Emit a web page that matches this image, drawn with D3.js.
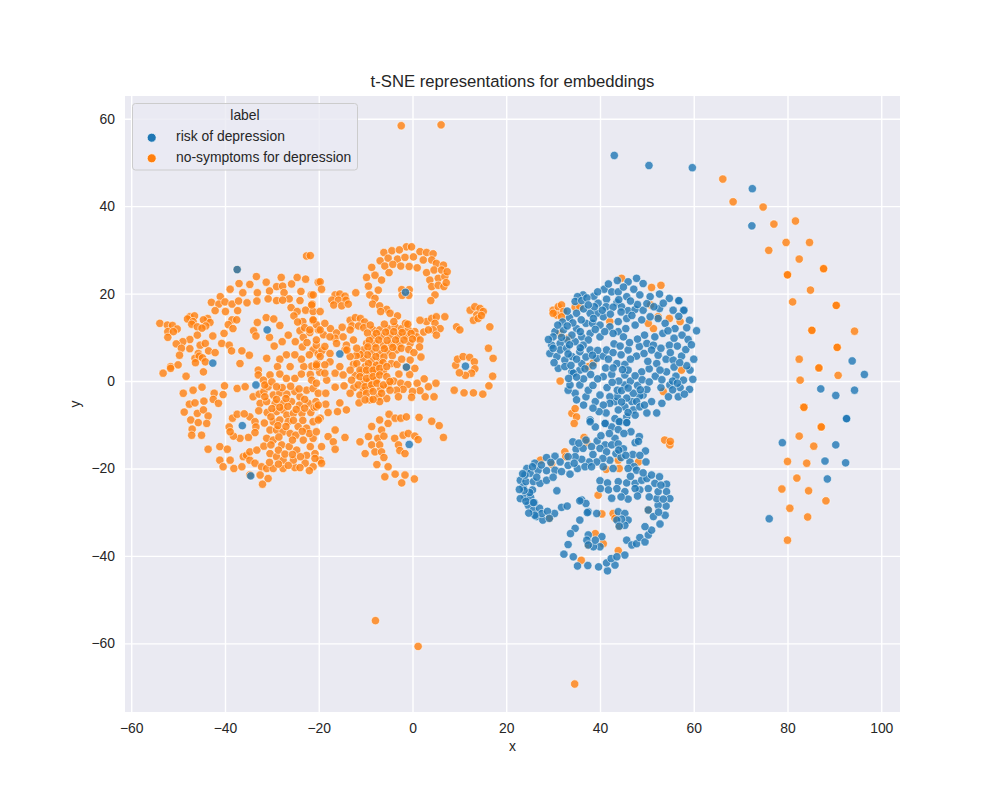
<!DOCTYPE html>
<html>
<head>
<meta charset="utf-8">
<script src="https://cdn.jsdelivr.net/npm/d3@7"></script>
<style>
  body { margin: 0; background: #ffffff; }
  svg text { font-family: "Liberation Sans", Arial, sans-serif; fill: #262626; }
</style>
</head>
<body>
<svg id="chart" width="1000" height="800"></svg>
<script>
// t-SNE coordinates, [x, y]
const xTicks = [-60, -40, -20, 0, 20, 40, 60, 80, 100];
const yTicks = [-60, -40, -20, 0, 20, 40, 60];
const labelNames = ["risk of depression", "no-symptoms for depression"];
const labelColors = ["#1f77b4", "#ff7f0e"];

// big orange blob on the left
const noSymptomsLeft = [
  [-22.6,28.6],[-21.8,28.7],[-37.4,25.5],
  [-33.3,23.9],[-37.0,22.3],[-34.7,22.1],[-31.2,22.6],[-28.0,23.7],[-25.8,22.2],[-24.6,23.7],[-22.8,23.3],[-20.1,22.6],
  [-38.9,21.0],[-36.2,20.2],[-33.1,20.2],[-30.5,20.6],[-29.0,21.6],[-27.7,21.7],[-27.4,20.2],[-26.3,18.8],[-23.8,20.5],[-21.6,19.7],
  [-41.0,19.3],[-42.9,18.0],[-41.3,17.6],[-40.0,18.1],[-38.5,17.6],[-37.1,18.3],[-35.3,17.9],[-33.2,18.3],[-30.8,18.8],[-29.0,18.4],[-27.7,18.5],[-24.0,18.4],[-21.4,17.6],
  [-42.1,16.1],[-39.9,15.9],[-37.3,16.1],[-38.5,14.0],[-37.5,14.0],[-39.3,12.9],[-38.3,12.0],
  [-33.1,13.4],[-31.2,14.5],[-29.6,14.2],[-28.3,12.7],[-33.9,11.5],[-33.4,10.3],
  [-25.9,16.8],[-24.6,15.9],[-22.8,16.2],[-21.2,15.9],[-25.3,14.9],[-23.4,13.6],[-21.2,13.8],[-24.0,11.5],[-21.9,11.1],[-23.3,10.0],[-20.1,11.7],
  [-53.9,13.2],[-52.3,12.8],[-51.2,12.7],[-50.2,11.9],[-52.2,11.3],[-51.0,11.3],[-52.2,10.0],[-47.5,14.7],[-46.5,14.9],[-48.0,14.2],
  [-46.8,13.6],[-47.1,13.0],[-45.9,12.4],[-43.7,14.3],[-44.6,14.0],[-43.2,13.4],[-44.1,12.6],[-44.9,12.1],[-45.9,10.5],[-42.6,10.3],
  [-47.5,9.5],[-49.0,9.0],[-50.4,8.5],[-49.3,7.5],[-47.5,7.4],[-45.3,8.2],[-44.2,8.6],[-45.7,6.3],[-43.5,6.9],[-42.1,6.5],
  [-46.4,5.2],[-45.5,5.7],[-44.8,5.3],[-44.2,4.4],[-46.3,4.2],[-49.7,5.9],[-51.6,3.3],[-50.0,3.7],
  [-40.7,8.6],[-40.2,10.9],[-39.1,8.2],[-38.6,6.9],[-36.4,6.9],[-36.8,4.0],[-34.8,5.9],[-31.1,5.2],[-21.2,7.1],[-20.1,6.2],[-21.5,3.4],[-20.4,4.0],[-32.9,2.5],
  [-26.5,10.5],[-25.0,9.0],[-27.8,9.0],[-29.5,8.0],[-30.5,10.0],[-23.5,7.8],
  // ring near (-26, 3) with its centre point
  [-23.2,3.3],[-23.7,5.0],[-25.1,6.0],[-26.9,6.0],[-28.3,5.0],[-28.8,3.3],[-28.3,1.6],[-26.9,0.6],[-25.1,0.6],[-23.7,1.6],[-26.1,3.3],
  [-53.2,1.8],[-51.6,2.9],[-48.3,1.1],[-44.6,2.1],
  [-40.1,-1.1],[-42.3,-2.8],[-40.4,-3.1],[-44.9,-1.4],[-46.8,-2.1],[-48.9,-2.8],[-47.6,-5.3],[-46.4,-5.0],[-44.5,-4.6],[-42.5,-4.2],[-41.4,-5.1],
  [-48.7,-7.1],[-45.9,-7.4],[-44.6,-6.6],[-43.6,-8.0],[-47.3,-8.9],[-45.7,-9.5],[-43.9,-9.7],[-47.0,-11.0],[-47.1,-12.4],[-45.0,-12.4],
  // spiral round the blue point at (-36.3, -10.2)
  [-38.4,-8.5],[-37.4,-7.6],[-34.7,-8.2],[-33.6,-9.3],[-33.4,-10.5],[-33.6,-11.8],[-35.0,-12.9],[-36.8,-13.1],[-38.2,-12.6],[-39.1,-10.5],[-38.9,-11.6],[-35.9,-7.5],
  [-37.4,-1.7],[-35.7,-1.3],
  [-43.6,-15.6],[-41.1,-15.0],[-39.5,-15.6],[-41.1,-18.1],[-38.9,-18.1],[-40.4,-19.6],[-38.1,-20.0],[-36.4,-19.6],[-36.1,-17.3],[-35.4,-17.0],
  [-34.7,-18.1],[-33.6,-18.8],[-32.2,-19.6],[-31.1,-20.0],[-29.7,-20.0],[-27.6,-20.0],[-25.1,-19.8],[-21.2,-19.6],[-32.5,-21.5],[-30.8,-22.3],[-32.0,-23.6],[-34.7,-21.5],
  [-34.0,-3.6],[-32.7,-3.0],[-31.7,-2.4],[-30.8,-1.3],[-29.7,-3.2],[-28.3,-2.7],[-26.8,-3.0],[-25.1,-2.4],[-24.0,-3.6],[-22.6,-2.1],[-21.2,-1.7],[-20.1,-2.8],
  [-32.5,-5.1],[-31.1,-4.7],[-29.3,-5.1],[-27.6,-5.1],[-25.8,-4.7],[-24.1,-5.5],[-22.2,-5.1],[-20.6,-4.7],
  [-29.0,-7.0],[-27.6,-6.6],[-26.8,-7.8],[-25.4,-7.4],[-23.6,-7.4],[-21.7,-7.2],[-31.0,-7.2],[-32.8,-6.8],
  [-29.7,-9.3],[-28.3,-8.9],[-26.5,-9.3],[-24.4,-10.4],[-22.6,-10.8],[-21.2,-9.3],[-19.7,-8.5],[-31.6,-9.6],
  [-30.4,-11.2],[-29.0,-11.2],[-27.6,-11.6],[-26.1,-12.0],[-24.9,-12.4],[-23.3,-13.5],[-21.2,-13.1],
  [-31.1,-13.1],[-29.7,-13.5],[-27.9,-14.6],[-26.3,-15.0],[-24.7,-15.8],[-22.6,-17.0],[-20.8,-16.6],[-19.7,-18.1],
  [-34.7,-16.2],[-33.2,-15.8],[-31.7,-14.9],[-30.4,-16.6],[-29.0,-17.3],[-27.6,-18.1],[-25.4,-18.1],[-22.9,-18.8],
  [-30.0,-6.3],[-28.3,-6.0],[-26.6,-5.8],[-24.8,-6.5],[-23.0,-6.2],[-21.0,-6.0],[-30.2,-8.2],[-28.7,-10.2],[-27.0,-10.4],[-25.4,-9.0],
  [-23.4,-9.0],[-22.0,-12.0],[-23.5,-11.5],[-25.6,-13.5],[-28.5,-12.8],[-30.2,-14.6],[-28.6,-15.8],[-27.2,-16.7],[-25.6,-16.8],[-23.9,-17.3],
  [-21.8,-15.0],[-26.5,-19.3],[-28.6,-19.0],[-24.0,-19.8],[-22.0,-20.5],[-30.5,-18.6],[-27.8,-1.5],[-26.0,-1.2],[-24.2,-1.8],[-23.0,-4.2],
  [-27.0,-4.0],[-29.0,-4.2],[-31.5,-3.6],
  [-32.9,1.4],[-31.8,0.2],[-31.5,-0.9],[-30.4,1.4],[-30.0,-0.2],[-29.0,-1.3],
  [-24.5,13.5],[-23.0,12.2],[-20.5,12.9],[-19.0,10.6],[-22.5,8.8],[-20.5,8.2],[-22.0,6.0],[-19.3,7.0],[-21.8,1.5],[-19.8,2.0],
  [-17.5,12.0],[-16.2,11.0],[-15.0,12.3],[-16.5,9.8],
  // top arc round (-1, 20)
  [-1.3,30.7],[-0.2,30.7],[-6.1,29.4],[-4.4,29.8],[-2.8,30.0],[1.6,29.6],[3.0,29.4],[4.4,29.1],[-6.9,27.5],[-5.2,28.1],[-3.2,27.9],[-1.6,28.3],
  [0.2,28.4],[2.3,27.7],[4.1,27.7],[5.1,26.9],[6.6,26.5],[-8.7,26.0],[-5.9,26.3],[-4.2,26.7],[-2.5,26.3],[-0.7,26.2],[1.0,25.9],[3.0,24.8],
  [4.6,25.4],[6.2,25.4],[-9.8,23.7],[-8.0,24.2],[-6.6,23.1],[-5.0,24.8],[3.7,23.1],[5.5,23.5],[6.9,23.9],[-9.4,21.7],[-7.3,20.8],[4.1,21.6],
  [5.5,21.9],[6.7,21.6],[-9.1,19.7],[-8.0,18.9],[4.8,19.7],[3.9,18.4],[-8.5,17.6],[-7.0,17.2],[-5.5,16.4],[-6.8,15.9],[-4.8,15.5],[-3.2,14.9],
  [7.4,25.0],[7.2,22.5],
  [-2.3,20.9],[-0.7,20.9],[-0.8,19.6],[-2.2,19.6],
  [-19.7,22.7],[-19.4,21.0],[-12.1,20.2],
  [-16.5,19.7],[-15.5,19.9],[-14.4,19.4],[-17.2,18.5],[-15.8,18.5],[-14.2,18.5],[-16.8,17.4],[-15.1,17.2],[-13.7,17.6],
  [-21.2,19.7],[-21.5,17.4],[-19.7,15.9],[-21.2,14.0],[-18.7,13.2],[-21.9,11.7],[-19.7,11.7],[-20.5,9.4],[-17.6,10.1],[-18.7,7.9],
  [-13.3,13.9],[-12.2,14.5],[-11.1,14.3],[-10.2,13.5],[-12.9,12.6],[-11.5,12.6],[-10.4,12.2],
  [-8.4,11.7],[-7.0,11.7],[-5.2,12.0],[-3.7,12.4],[-2.3,12.0],[-0.9,11.7],[0.5,11.3],[0.9,10.1],
  [-8.4,10.1],[-6.6,10.3],[-4.8,10.5],[-3.0,10.3],[-1.3,10.3],
  [-9.8,8.6],[-8.0,8.6],[-6.2,8.2],[-4.5,8.5],[-2.7,8.6],[-0.5,8.6],[1.6,9.4],
  [-10.5,7.1],[-8.7,6.7],[-7.0,6.3],[-5.2,6.7],[-3.4,7.1],
  [-10.5,5.2],[-8.7,4.8],[-7.0,4.4],[-10.1,3.3],[-8.4,3.1],
  [-9.0,12.8],[-6.0,13.0],[-4.0,13.6],[-1.5,13.2],[-9.6,11.0],[-7.7,10.9],[-5.7,11.2],[-4.0,11.3],[-2.2,11.1],[-0.3,10.9],
  [-9.2,9.3],[-7.2,9.4],[-5.4,9.3],[-3.6,9.4],[-1.8,9.4],[0.0,9.6],[-9.5,7.8],[-7.8,7.6],[-6.0,7.4],[-4.2,7.7],
  [-2.4,7.5],[-0.8,7.2],[-9.6,6.0],[-7.8,5.6],[-6.1,5.5],[-4.3,5.8],[-11.2,6.1],[-9.4,4.0],[-7.7,3.6],[-6.3,4.2],
  [-10.8,2.0],[-9.1,1.8],[-7.6,2.1],[-6.2,2.1],[-10.5,-0.2],[-9.2,0.0],[-7.7,0.2],[-6.8,-1.8],[-5.2,-1.0],[-9.0,-1.7],
  [-10.5,-2.2],[-12.5,-1.5],[-12.2,1.3],[-12.6,3.8],[-12.0,5.8],[-4.5,4.0],[-4.0,0.0],[-2.5,-0.5],[-1.0,-0.8],[1.0,-0.5],
  [2.5,0.5],[1.8,5.5],[0.3,6.5],[1.5,7.8],[-1.0,13.0],[2.4,11.2],
  [-13.3,11.7],[-14.8,10.1],[-12.6,9.4],[-16.2,8.6],[-14.1,8.2],[-11.9,7.5],[-17.6,6.3],[-13.3,5.6],[-11.9,4.0],[-17.6,4.4],[-19.7,5.6],[-20.5,3.3],
  [-14.4,7.1],[-14.0,7.1],
  [3.0,13.6],[4.1,14.3],[5.1,14.7],[4.8,13.2],[5.9,12.0],[4.4,11.7],[5.1,10.5],[3.4,11.7],
  [1.6,13.9],[6.9,14.7],[9.4,12.4],[10.1,11.7],
  [12.3,16.2],[13.3,17.0],[14.4,16.6],[15.1,15.9],[13.7,15.1],[13.0,13.9],[14.0,14.3],[14.7,15.0],[16.5,12.4],[16.2,7.5],[17.2,5.2],
  // ring round the blue point at (11.3, 3.4)
  [9.2,3.6],[9.6,5.0],[10.8,5.6],[12.2,5.4],[13.2,4.4],[13.3,2.8],[12.6,1.8],[11.3,1.3],[10.0,1.9],
  [17.1,1.1],[16.3,-1.1],[15.0,-3.0],[13.0,-2.7],[11.0,-2.7],[8.9,-2.1],
  [-3.3,3.8],[-2.9,1.6],[-0.6,1.5],[0.5,2.9],[-0.5,4.8],[-2.3,5.0],[-1.3,3.1],
  [5.0,-0.5],[3.4,-1.3],[2.7,-3.6],[4.6,-3.6],[1.6,-2.2],[0.0,-2.4],[-0.2,-3.7],[-2.0,-1.9],[-3.4,-2.1],[-3.0,-3.6],[-4.8,-2.1],[-5.5,-4.0],
  [-7.3,-3.6],[-7.0,-4.7],[-9.1,-4.3],[-11.2,-3.2],[-11.4,-5.0],[-13.3,-2.8],[-14.6,-1.1],[-16.5,-1.4],[-18.5,-2.8],[-18.5,-5.3],[-15.5,-5.0],
  [-14.1,-6.6],[-16.0,-7.0],[-18.0,-7.2],[-20.1,-8.9],[-20.5,-11.6],[-20.5,-5.9],[-16.5,-11.2],[-14.4,-12.9],[-18.0,-12.7],[-16.9,-13.9],
  [-19.4,-15.0],[-16.5,-15.6],[-20.8,-17.7],[-19.4,-18.8],
  [-3.8,-13.1],[-3.0,-14.6],[-2.7,-15.9],[-1.6,-16.6],[-2.0,-12.4],[-0.9,-12.0],[0.5,-12.6],[1.2,-13.4],
  [-8.7,-10.4],[-7.0,-8.9],[-5.0,-7.6],[-3.7,-8.5],[-2.5,-8.5],[-1.3,-8.2],[1.4,-8.3],[4.1,-9.2],[5.7,-10.2],[6.6,-12.9],
  [-5.2,-9.7],[-6.6,-11.2],[-9.4,-12.7],[-11.2,-13.9],[-7.4,-13.1],[-8.7,-14.6],[-7.0,-14.6],[-6.1,-12.6],[-10.1,-16.6],[-8.0,-16.2],
  [-6.6,-16.2],[-6.1,-17.5],[-7.6,-19.1],[-5.2,-19.6],[-5.9,-21.9],[-3.7,-21.3],[-1.6,-21.5],[-2.3,-23.3],[0.4,-22.4],
  [-11.2,2.5],[-9.8,2.5],[-8.4,2.5],[-7.0,2.9],[-5.5,3.3],[-11.2,1.0],[-9.8,0.6],[-8.4,1.0],[-7.0,1.4],[-5.5,1.0],
  [-11.6,-0.9],[-10.1,-1.3],[-8.7,-0.9],[-7.6,-0.5],[-6.2,-0.9],[-4.8,-0.1],[-9.8,-2.8],[-8.4,-2.4],[-6.6,-2.8],[-10.1,-4.3],[-8.4,-4.2],
  [-20.5,3.7],[-18.7,3.7],[-21.5,0.2],[-20.5,-0.5],[-18.3,0.2],[-18.7,1.8],[-16.5,1.8],[-14.8,1.4],[-13.3,2.5],[-15.5,3.3],[-13.0,0.2],[-20.1,-5.5]
];

// orange points scattered inside the blue blob
const noSymptomsMid = [
  [44.6,23.5],[51.0,21.4],[53.0,21.9],[50.8,17.4],[54.8,14.3],[57.1,13.6],[51.4,12.0],[50.3,13.2],[52.4,14.7],[42.1,13.6],
  [37.5,3.3],[38.6,4.2],[57.4,2.5],[53.5,-2.4],
  [30.0,16.2],[31.1,17.0],[31.8,17.4],[32.2,15.9],[30.8,15.1],[30.0,15.5],[31.8,14.7],[34.7,16.9],[35.7,17.0],
  [31.5,10.9],[33.2,9.8],[31.5,0.0],[34.0,-7.4],[34.7,-6.3],[35.0,-8.2],[34.5,-9.7],
  [36.6,-12.9],[37.2,-14.1],[43.9,-18.1],[32.5,-16.2],[32.7,-17.3],[27.3,-18.1],[29.7,-19.0],[41.3,-20.2],[44.1,-20.0],[48.2,-18.5],
  [53.8,-13.5],[54.9,-14.6],[55.0,-13.8],
  [39.6,-26.1],[40.4,-30.4],[42.8,-30.3],[43.2,-31.4],[39.0,-34.9],[40.7,-37.2],[36.0,-41.0],[43.9,-38.8],
  [29.2,-31.4],[50.3,-29.5],[44.1,-33.2],[37.5,-37.5]
];

// orange points on the sparse arc to the right
const noSymptomsArc = [
  [66.2,46.2],[68.4,41.0],[74.8,39.8],[77.1,35.9],[81.7,36.6],[79.7,31.7],[84.7,31.7],[76.0,29.9],[82.5,27.9],
  [87.7,25.7],[87.7,25.7],[80.0,24.3],[80.0,24.3],[84.9,20.8],[81.1,18.1],[90.4,17.3],[90.4,17.3],
  [85.2,11.6],[85.2,11.6],[94.3,11.4],[90.6,7.7],[90.6,7.7],[82.5,5.0],[86.7,3.0],[86.7,3.0],[90.8,1.3],[82.7,0.2],
  [83.5,-6.0],[83.5,-6.0],[87.2,-10.5],[87.2,-10.5],[82.5,-12.6],[85.6,-14.9],[80.0,-18.4],[84.1,-18.8],[82.0,-22.2],
  [78.8,-24.7],[84.5,-25.1],[88.2,-27.4],[80.5,-29.1],[84.3,-31.1],[80.0,-36.4]
];

const noSymptomsOutliers = [
  [-2.4,58.4],[6.1,58.6],[-7.9,-54.8],[1.2,-60.7],[34.6,-69.3]
];

// blue points lying in the orange blob
const riskInLeft = [
  [-37.4,25.5],[-31.0,11.7],[-42.6,4.1],[-33.4,-0.9],[-36.3,-10.2],[-34.5,-21.7],
  [-1.5,20.3],[-15.5,6.2],[11.3,3.4],[-1.3,3.2],[-0.7,-14.5]
];

// the two blue blobs
const riskCluster = [
  [47.8,23.5],[46.0,22.7],[43.7,23.0],[49.2,22.3],[40.9,21.0],[42.5,20.4],[43.9,20.4],[45.7,19.3],[48.5,19.7],[50.7,19.3],
  [52.7,19.9],[54.8,18.9],[56.9,18.3],[38.7,19.4],[36.4,19.7],[35.2,19.3],[34.7,18.2],[36.1,18.4],[37.2,19.0],[39.6,17.8],
  [41.4,18.7],[43.6,17.9],[41.3,17.0],[42.8,16.9],[44.6,17.0],[46.0,16.1],[47.5,16.4],[49.2,16.2],[52.7,16.6],[55.6,16.2],
  [57.8,16.1],[59.1,13.9],[60.6,11.5],[53.9,13.2],[52.4,14.3],[50.7,14.7],[48.9,14.0],[47.5,12.8],[45.7,14.3],[43.9,13.6],
  [40.7,14.7],[39.3,15.5],[37.9,15.5],[37.0,13.2],[38.4,13.2],[40.0,12.8],[42.1,12.4],[43.9,11.3],[42.8,10.9],[45.0,10.1],
  [40.0,10.1],[37.9,10.9],[36.1,10.1],[35.0,12.0],[37.5,9.4],[36.4,8.2],[37.9,7.1],[35.7,6.7],[34.7,9.0],[34.0,10.5],
  [32.9,9.4],[32.2,11.7],[30.4,11.3],[30.0,10.1],[31.5,8.6],[29.7,8.2],[29.3,6.3],[30.8,5.6],[31.5,7.1],[32.9,7.5],
  [34.0,5.6],[32.5,4.8],[31.1,2.9],[32.5,3.3],[34.0,2.1],[35.7,2.5],[36.1,4.0],[35.0,5.0],[39.3,5.2],[40.7,5.7],
  [41.4,7.1],[42.8,6.5],[43.6,4.0],[45.3,3.8],[46.0,7.1],[47.8,5.7],[49.4,6.3],[48.4,7.9],[50.0,8.6],[51.4,8.2],
  [51.7,10.1],[51.0,7.1],[52.4,5.9],[54.1,5.0],[55.6,4.8],[57.4,5.7],[58.3,7.2],[54.8,8.2],[53.4,10.9],[52.1,4.0],
  [51.8,1.1],[54.2,2.1],[56.2,1.1],[59.2,2.5],[59.8,0.4],[57.8,0.2],[59.1,-1.9],[57.1,-1.5],[54.9,-0.9],[54.6,-3.6],
  [56.7,-3.6],[53.2,-5.1],[52.1,-7.3],[50.0,-7.3],[51.0,-4.7],[49.2,-3.2],[50.0,-1.9],[48.5,-3.4],[47.1,-2.8],[46.8,-4.7],
  [47.8,-4.7],[45.7,-3.9],[45.3,-5.9],[47.1,-6.6],[48.5,-5.9],[47.5,-7.8],[45.7,-8.2],[43.9,-6.6],[43.2,-4.7],[43.7,-3.6],
  [43.7,-2.1],[45.3,-0.9],[42.1,-3.6],[42.1,-5.1],[40.7,-5.5],[39.0,-4.7],[40.0,-3.2],[37.0,-3.6],[37.5,-2.1],[34.7,-2.8],
  [33.2,-2.1],[33.6,-0.9],[35.7,-0.9],[34.3,1.8],[40.7,1.0],[45.3,1.4],[48.9,2.1],[43.2,-8.6],[44.3,-9.3],[45.7,-9.5],
  [37.9,-8.9],[41.1,-9.7],
  [33.5,14.5],[35.0,15.5],[36.5,16.5],[33.0,16.0],[34.2,13.3],[36.0,14.0],[38.8,17.0],[32.0,13.5],[31.0,12.8],
  [30.0,7.5],[33.5,8.3],[31.8,10.0],[33.2,6.2],[30.2,4.2],[29.0,9.5],
  [44.5,15.8],[46.8,15.0],[48.0,17.5],[50.0,17.7],[51.5,17.0],[53.5,17.8],[45.5,12.0],[41.0,11.3],[39.0,11.8],
  [56.0,12.0],[57.5,10.5],[58.8,9.5],[56.5,8.0],[55.0,6.5],[60.0,5.0],[58.5,3.5],[53.0,-1.5],[55.5,-2.0],
  [38.5,-1.0],[39.5,0.5],[41.5,-1.5],[38.0,1.5],[36.5,0.5],[42.5,1.5],[44.0,0.0],[46.5,0.0],[47.5,1.2],[48.0,-1.0],
  [46.0,2.5],[44.5,6.0],[43.0,8.5],[38.5,3.5],[37.0,5.5],[39.5,7.0],
  [57.9,16.2],[56.8,18.4],
  [33.0,12.6],[35.8,11.3],[38.6,14.3],[40.5,16.2],[42.2,15.3],[44.0,18.6],[46.5,18.3],[47.2,21.0],[45.0,21.5],[41.8,22.2],
  [39.5,20.4],[37.5,17.4],[35.8,7.6],[33.8,3.6],[33.3,0.6],[35.0,0.9],[36.8,2.8],[38.4,5.9],[41.2,3.0],[42.6,-0.3],
  [44.6,-2.2],[46.0,-1.6],[48.6,-2.0],[49.0,0.3],[50.5,-0.2],[50.5,2.8],[52.8,2.5],[53.2,0.3],[55.5,0.0],[56.5,-0.5],
  [58.0,-3.0],[55.8,3.2],[57.0,4.2],[53.0,7.5],[55.8,9.8],[54.5,11.5],[56.8,14.8],[58.5,12.2],[59.5,8.3],[49.5,10.5],
  [48.0,9.6],[46.3,8.8],[44.3,8.0],[46.5,5.0],[44.8,2.6],[42.8,3.0],[41.8,5.0],[50.2,4.5],[49.5,-5.5],[46.0,-7.2],
  [44.6,-4.8],[41.3,-7.3],[39.8,-7.0],[38.5,-6.2],[36.5,-5.5],[35.0,-4.3],[39.0,-10.5],[42.5,-10.5],
  [37.9,-9.3],[41.1,-9.7],[44.1,-9.3],[45.7,-9.5],[46.6,-11.6],[48.4,-12.7],[47.5,-14.1],[43.9,-11.1],[45.1,-12.0],[43.2,-13.1],
  [49.7,-16.0],[34.2,-13.9],[39.4,-13.7],[41.1,-14.6],[42.5,-14.6],[43.9,-14.4],[34.9,-15.6],[36.4,-15.4],[38.2,-15.0],[40.0,-15.4],
  [41.4,-16.2],[43.4,-16.6],[42.1,-18.1],[40.6,-17.7],[39.3,-18.5],[37.7,-18.5],[36.1,-17.9],[34.7,-17.3],[33.2,-17.3],[30.4,-17.2],
  [28.6,-17.5],[26.1,-18.8],[24.4,-20.0],[25.1,-21.1],[26.8,-20.4],[28.6,-20.5],[30.4,-20.4],[31.8,-20.7],[33.6,-21.3],[35.2,-20.0],
  [36.8,-19.6],[38.2,-19.6],[40.7,-19.6],[42.8,-20.0],[46.4,-18.5],[47.3,-19.6],[46.0,-20.0],[47.8,-20.4],[23.0,-22.7],[23.6,-24.2],
  [24.0,-26.5],[23.0,-26.9],[24.7,-28.4],[25.8,-29.5],[26.5,-31.0],[27.8,-31.8],[30.3,-30.3],[31.8,-28.9],[33.0,-28.6],[25.2,-26.6],
  [25.6,-24.9],[24.2,-23.0],[25.8,-23.0],[27.2,-23.4],[28.6,-22.7],[30.0,-22.0],[27.1,-29.1],[27.6,-30.3],[26.1,-30.7],[30.8,-25.1],
  [40.0,-22.8],[41.6,-23.3],[40.1,-24.6],[41.8,-24.9],[36.1,-27.2],[37.0,-28.0],[37.5,-29.9],[39.3,-30.3],[43.9,-23.0],[45.7,-23.3],
  [47.5,-23.4],[48.9,-22.7],[50.0,-22.3],[51.0,-21.5],[52.7,-21.9],[54.2,-23.6],[54.2,-25.3],[54.9,-26.9],[54.1,-28.6],[52.4,-28.4],
  [53.9,-30.7],[52.8,-32.7],[51.4,-31.0],[52.1,-26.9],[52.4,-25.3],[51.7,-23.4],[50.3,-24.6],[48.5,-24.9],[47.5,-24.6],[45.3,-25.3],
  [43.6,-24.6],
  [43.9,-29.9],[45.3,-30.3],[46.0,-31.8],[45.3,-33.0],[44.6,-31.6],[43.6,-31.8],
  [35.7,-31.8],[34.7,-33.7],[33.7,-34.9],[33.2,-37.4],[32.3,-39.6],[34.3,-40.2],[35.2,-42.3],[37.4,-42.2],[39.7,-42.5],[41.6,-43.4],
  [43.2,-42.1],[41.4,-41.6],[42.4,-40.6],[45.3,-39.8],[43.6,-40.2],
  [37.5,-35.2],[40.4,-35.6],[40.0,-37.9],[38.6,-37.9],[37.2,-36.4],[39.0,-36.4],
  [45.7,-36.4],[46.8,-37.5],[47.8,-37.2],[48.5,-35.8],[49.6,-36.8],[50.3,-35.2],[51.0,-34.1],[49.6,-33.3],[37.3,-30.1],[35.7,-27.4],
  [35.5,-14.2],[37.0,-13.5],[38.5,-16.8],[40.2,-12.5],[42.0,-12.0],[44.5,-17.5],[45.0,-15.5],
  [24.0,-21.5],[25.0,-25.5],[26.5,-22.0],[23.8,-25.0],[26.0,-27.8],[28.8,-29.8],
  [46.5,-21.8],[49.2,-21.0],[50.5,-26.5],[48.0,-26.3],[46.0,-27.0],[44.5,-26.5],[42.5,-26.8],
  [33.2,-19.3],[34.5,-18.8],[31.5,-18.5],[29.5,-18.6],[27.5,-19.2],[25.6,-19.6],[23.5,-21.2],[22.8,-24.8],[24.2,-27.5],[25.8,-27.8],
  [24.8,-30.2],[48.2,-13.8],[47.0,-16.8],[48.5,-17.0],[49.8,-18.5],[45.5,-17.0],[44.0,-15.8],[53.0,-23.8],[53.5,-27.0],[52.5,-30.0],
  [29.2,-31.4],[50.3,-29.5],[44.1,-33.2],[37.5,-37.5]
];

// blue points on the sparse arc
const riskArc = [
  [43.05,51.6],[50.45,49.3],[59.7,48.8],[72.5,44.0],[72.4,35.5],
  [93.8,4.6],[96.4,1.5],[87.1,-1.8],[90.3,-3.3],[94.3,-2.1],[92.6,-8.6],[92.6,-8.6],
  [78.9,-14.1],[90.3,-14.6],[88.0,-18.3],[92.4,-18.7],[88.5,-22.4],[76.1,-31.5]
];

const width = 1000;
const height = 800;
const plot = { left: 125, right: 900, top: 96, bottom: 712 };

const x = d3.scaleLinear().domain([-61.33, 104.0]).range([plot.left, plot.right]);
const y = d3.scaleLinear().domain([-75.7, 65.2]).range([plot.bottom, plot.top]);

const svg = d3.select("#chart");

svg.append("rect")
    .attr("width", width)
    .attr("height", height)
    .attr("fill", "#ffffff");

svg.append("rect")
    .attr("x", plot.left)
    .attr("y", plot.top)
    .attr("width", plot.right - plot.left)
    .attr("height", plot.bottom - plot.top)
    .attr("fill", "#eaeaf2");

// axes with white grid lines
const xAxis = svg.append("g")
    .attr("transform", `translate(0,${plot.bottom})`)
    .call(d3.axisBottom(x).tickValues(xTicks).tickSize(-(plot.bottom - plot.top)).tickPadding(11));

const yAxis = svg.append("g")
    .attr("transform", `translate(${plot.left},0)`)
    .call(d3.axisLeft(y).tickValues(yTicks).tickSize(-(plot.right - plot.left)).tickPadding(10));

[xAxis, yAxis].forEach(g => {
    g.select(".domain").remove();
    g.selectAll(".tick line")
        .attr("stroke", "#ffffff")
        .attr("stroke-width", 1.4);
    g.selectAll(".tick text")
        .attr("fill", "#262626")
        .style("font-family", '"Liberation Sans", Arial, sans-serif')
        .style("font-size", "13.9px");
    g.attr("font-family", null).attr("font-size", null);
});

const dots = svg.append("g");

function drawPoints(data, color) {
    dots.append("g")
        .selectAll("circle")
        .data(data)
        .join("circle")
        .attr("cx", d => x(d[0]))
        .attr("cy", d => y(d[1]))
        .attr("r", 4.17)
        .attr("fill", color)
        .attr("fill-opacity", 0.8)
        .attr("stroke", "#ffffff")
        .attr("stroke-width", 0.7)
        .attr("stroke-opacity", 0.8);
}

// orange first, blue on top
drawPoints(noSymptomsLeft, labelColors[1]);
drawPoints(noSymptomsMid, labelColors[1]);
drawPoints(noSymptomsArc, labelColors[1]);
drawPoints(noSymptomsOutliers, labelColors[1]);
drawPoints(riskInLeft, labelColors[0]);
drawPoints(riskCluster, labelColors[0]);
drawPoints(riskArc, labelColors[0]);

// title and axis labels
svg.append("text")
    .attr("x", (plot.left + plot.right) / 2)
    .attr("y", 87)
    .attr("text-anchor", "middle")
    .style("font-size", "16.7px")
    .text("t-SNE representations for embeddings");

svg.append("text")
    .attr("x", (plot.left + plot.right) / 2)
    .attr("y", 751)
    .attr("text-anchor", "middle")
    .style("font-size", "13.9px")
    .text("x");

svg.append("text")
    .attr("transform", `translate(80,${(plot.top + plot.bottom) / 2}) rotate(-90)`)
    .attr("text-anchor", "middle")
    .style("font-size", "13.9px")
    .text("y");

// legend
const legend = svg.append("g");

legend.append("rect")
    .attr("x", 132.5)
    .attr("y", 103.5)
    .attr("width", 225)
    .attr("height", 66.5)
    .attr("rx", 3)
    .attr("fill", "#eaeaf2")
    .attr("fill-opacity", 0.8)
    .attr("stroke", "#cccccc")
    .attr("stroke-width", 1);

legend.append("text")
    .attr("x", 245)
    .attr("y", 120)
    .attr("text-anchor", "middle")
    .style("font-size", "13.9px")
    .text("label");

labelNames.forEach((name, i) => {
    const cy = 137.7 + i * 20.6;
    legend.append("circle")
        .attr("cx", 151.7)
        .attr("cy", cy)
        .attr("r", 4.5)
        .attr("fill", labelColors[i])
        .attr("stroke", "#ffffff")
        .attr("stroke-width", 0.7);
    legend.append("text")
        .attr("x", 176)
        .attr("y", 140.7 + i * 21)
        .style("font-size", "13.9px")
        .text(name);
});
</script>
</body>
</html>
